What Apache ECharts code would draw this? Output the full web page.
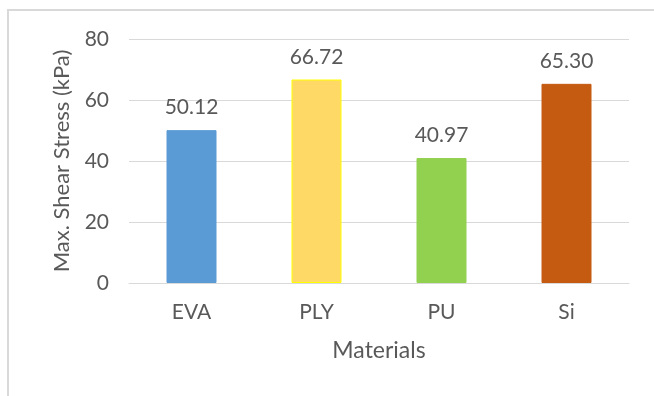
<!DOCTYPE html>
<html>
<head>
<meta charset="utf-8">
<script src="https://cdn.jsdelivr.net/npm/echarts@6/dist/echarts.min.js"></script>
<style>
  html, body { margin: 0; padding: 0; background: #ffffff; }
  #chart { width: 654px; height: 396px; }
</style>
</head>
<body>
<div id="chart"></div>
<script>
// Maximum shear stress per insole material
const materials = ['EVA', 'PLY', 'PU', 'Si'];
const shearStress = [50.12, 66.72, 40.97, 65.30];
const barColors = ['#5B9BD5', '#FFD966', '#92D050', '#C55A11'];
const barBorders = ['#5B9BD5', '#FFFF00', '#92D050', '#C55A11'];
const yTicks = { min: 0, max: 80, interval: 20 };

const FONT = 'Lato, "Open Sans", sans-serif';
const TEXT = '#595959';
const GRID = '#d9d9d9';

const chart = echarts.init(document.getElementById('chart'), null, { renderer: 'canvas' });

chart.setOption({
  animation: false,
  backgroundColor: '#ffffff',
  textStyle: { fontFamily: FONT },
  graphic: [{
    type: 'rect',
    silent: true,
    shape: { x: 8, y: 10, width: 800, height: 600 },
    style: { fill: 'none', stroke: GRID, lineWidth: 2 }
  }],
  grid: { left: 129, right: 25, top: 39, bottom: 113 },
  xAxis: {
    type: 'category',
    data: materials,
    name: 'Materials',
    nameLocation: 'middle',
    nameGap: 56,
    nameTextStyle: { color: TEXT, fontSize: 23, fontFamily: FONT },
    axisLine: { show: true, lineStyle: { color: GRID, width: 1 } },
    axisTick: { show: false },
    axisLabel: { color: TEXT, fontSize: 21, margin: 19, fontFamily: FONT }
  },
  yAxis: {
    type: 'value',
    min: yTicks.min,
    max: yTicks.max,
    interval: yTicks.interval,
    name: 'Max. Shear Stress (kPa)',
    nameLocation: 'middle',
    nameGap: 56,
    nameTextStyle: { color: TEXT, fontSize: 22, fontFamily: FONT },
    axisLine: { show: false },
    axisTick: { show: false },
    axisLabel: { color: TEXT, fontSize: 21, margin: 20, fontFamily: FONT },
    splitLine: { lineStyle: { color: GRID, width: 1 } }
  },
  series: [{
    type: 'bar',
    barWidth: '40%',
    data: shearStress.map((v, i) => ({
      value: v,
      itemStyle: { color: barColors[i], borderColor: barBorders[i], borderWidth: 1 }
    })),
    label: {
      show: true,
      position: 'top',
      distance: 12,
      color: TEXT,
      fontSize: 21,
      fontFamily: FONT,
      formatter: p => p.value.toFixed(2)
    }
  }]
});
</script>
</body>
</html>
